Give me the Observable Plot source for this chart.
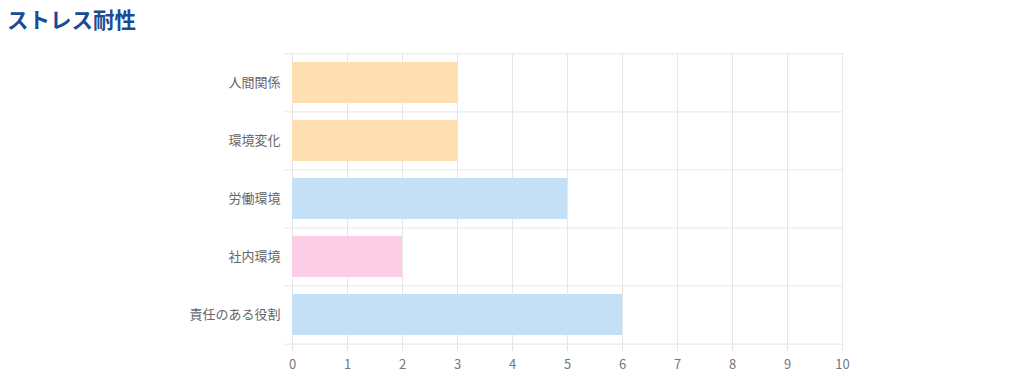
<!DOCTYPE html>
<html lang="ja">
<head>
<meta charset="utf-8">
<script src="https://cdn.jsdelivr.net/npm/d3@7"></script>
<script src="https://cdn.jsdelivr.net/npm/@observablehq/plot@0.6"></script>
<style>
  html, body { margin: 0; padding: 0; background: #fff; }
  body { width: 1024px; height: 386px; overflow: hidden; font-family: "Noto Sans CJK JP", "Noto Sans", sans-serif; }
  #title { height: 40px; box-sizing: border-box; padding: 5px 0 0 7px; font-size: 21.5px; font-weight: 700; color: #1a4b95; line-height: 28px; letter-spacing: 0; }
  #chart svg { display: block; }
</style>
</head>
<body>
<div id="title">ストレス耐性</div>
<div id="chart"></div>
<script>
// Data
const categories = ["人間関係", "環境変化", "労働環境", "社内環境", "責任のある役割"];
const values = [3, 3, 5, 2, 6];
const xTicks = [0, 1, 2, 3, 4, 5, 6, 7, 8, 9, 10];

// Styles
const barColors = ["#fddfb2", "#fddfb2", "#c3e0f7", "#fdcce5", "#c3e0f7"];
const gridColor = "#e6e6e6";
const textColor = "#666";

const rows = categories.map((c, i) => ({category: c, value: values[i]}));

const width = 1024, height = 346;
const marginTop = 13, marginBottom = 42, marginLeft = 292, marginRight = 182;
const step = (height - marginTop - marginBottom) / categories.length;

const chart = Plot.plot({
  width, height, marginTop, marginBottom, marginLeft, marginRight,
  style: {fontFamily: '"Noto Sans CJK JP", "Noto Sans", sans-serif', fontSize: "13px", color: textColor, background: "#fff"},
  x: {domain: [0, 10]},
  y: {domain: categories, paddingInner: 0.29, paddingOuter: 0.145},
  color: {type: "ordinal", domain: categories, range: barColors},
  marks: [
    // vertical grid lines (extend below axis as ticks)
    Plot.ruleX(xTicks, {x: d => d, stroke: gridColor, strokeWidth: 1, insetBottom: -7}),
    // horizontal lines at band boundaries (extend left as ticks)
    Plot.ruleY(categories, {y: d => d, dy: -step / 2, stroke: gridColor, strokeWidth: 1, insetLeft: -7}),
    Plot.ruleY([categories[categories.length - 1]], {y: d => d, dy: step / 2, stroke: gridColor, strokeWidth: 1, insetLeft: -7}),
    Plot.barX(rows, {y: "category", x: "value", fill: "category"}),
    Plot.axisX({ticks: xTicks, tickSize: 0, tickPadding: 15, fill: "#777", fontSize: 13, tickFormat: d => String(d), label: null}),
    Plot.axisY({tickSize: 0, tickPadding: 12, fill: textColor, fontSize: 13, label: null})
  ]
});
document.getElementById("chart").appendChild(chart);
</script>
</body>
</html>
